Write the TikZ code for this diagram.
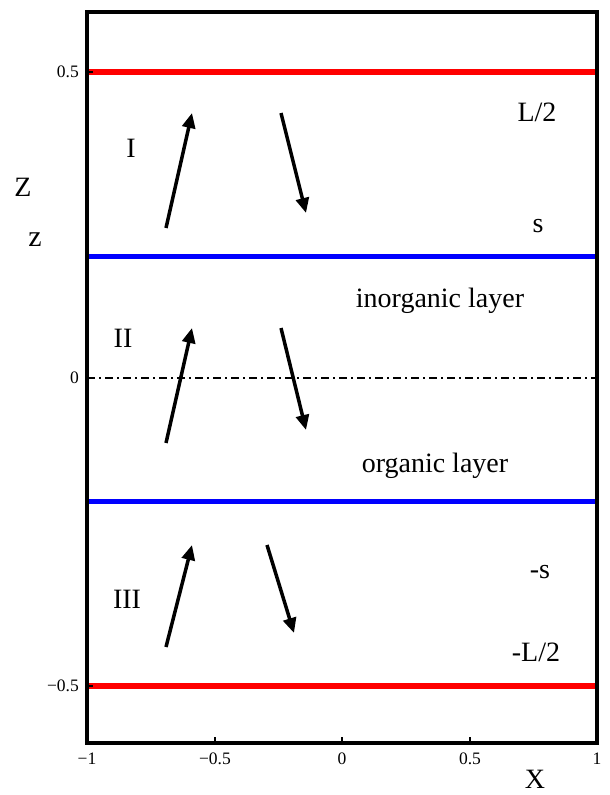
\documentclass[tikz,border=0pt]{standalone}
\usepackage{fontspec}
\setmainfont{Liberation Serif}
\usetikzlibrary{arrows.meta}
\definecolor{myred}{RGB}{255,0,0}
\definecolor{myblue}{RGB}{0,0,255}
\begin{document}
\begin{tikzpicture}[x=1pt,y=-1pt,
  ticklab/.style={font=\fontsize{17.5}{20}\selectfont, inner sep=0pt},
  biglab/.style={font=\fontsize{28}{32}\selectfont, inner sep=0pt},
  spin/.style={line width=3.5pt, -{Triangle[length=15pt,width=13pt]}},
  redline/.style={myred, line width=6pt},
  blueline/.style={myblue, line width=5pt},
  frame/.style={line width=4pt},
  tickmark/.style={line width=1.2pt}]
\useasboundingbox (0,0) rectangle (610,795);
% layer lines
\draw[redline] (87,72) -- (597,72);
\draw[redline] (87,686) -- (597,686);
\draw[blueline] (87,256) -- (597,256);
\draw[blueline] (87,501) -- (597,501);
\draw[line width=1.3pt, dash pattern=on 8pt off 4pt on 2pt off 4pt] (87,378) -- (597,378);
% frame
\draw[frame] (87,12) rectangle (597,743);
% ticks
\foreach \x in {215,342,470} \draw[tickmark] (\x,743) -- (\x,737);
\foreach \y in {72,378,686} \draw[tickmark] (87,\y) -- (93,\y);
% tick labels
\node[ticklab, anchor=east] (y05) at (79,72) {0.5};
\node[ticklab, anchor=east] (y0) at (79,378) {0};
\node[ticklab, anchor=east] (ym05) at (79,686) {−0.5};
\node[ticklab] (xm1) at (87,759) {−1};
\node[ticklab] (xm05) at (215,759) {−0.5};
\node[ticklab] (x0) at (342,759) {0};
\node[ticklab] (x05) at (470,759) {0.5};
\node[ticklab] (x1) at (597,759) {1};
% axis labels
\node[biglab] (X) at (535,779) {X};
\node[biglab] (Z) at (23,187) {Z};
\node[biglab, font=\fontsize{30}{34}\selectfont] (zl) at (35,240) {z};
% region labels
\node[biglab] (rI) at (131,148) {I};
\node[biglab] (rII) at (123,338) {II};
\node[biglab] (rIII) at (127,599) {III};
\node[biglab] (L2) at (537,112) {L/2};
\node[biglab] (s) at (538,226) {s};
\node[biglab] (inorg) at (440,301) {inorganic layer};
\node[biglab] (org) at (435,466) {organic layer};
\node[biglab] (ms) at (540,572) {-s};
\node[biglab] (mL2) at (536,652) {-L/2};
% spins
\coordinate (a1) at (166,228); \coordinate (b1) at (192,113);
\coordinate (c1) at (281,113); \coordinate (d1) at (306,213);
\coordinate (a2) at (166,443); \coordinate (b2) at (192,328);
\coordinate (c2) at (281,328); \coordinate (d2) at (306,430);
\coordinate (a3) at (166,647); \coordinate (b3) at (192,545);
\coordinate (c3) at (267,545); \coordinate (d3) at (294,633);
\draw[spin] (a1) -- (b1);
\draw[spin] (c1) -- (d1);
\draw[spin] (a2) -- (b2);
\draw[spin] (c2) -- (d2);
\draw[spin] (a3) -- (b3);
\draw[spin] (c3) -- (d3);
\end{tikzpicture}
\end{document}
